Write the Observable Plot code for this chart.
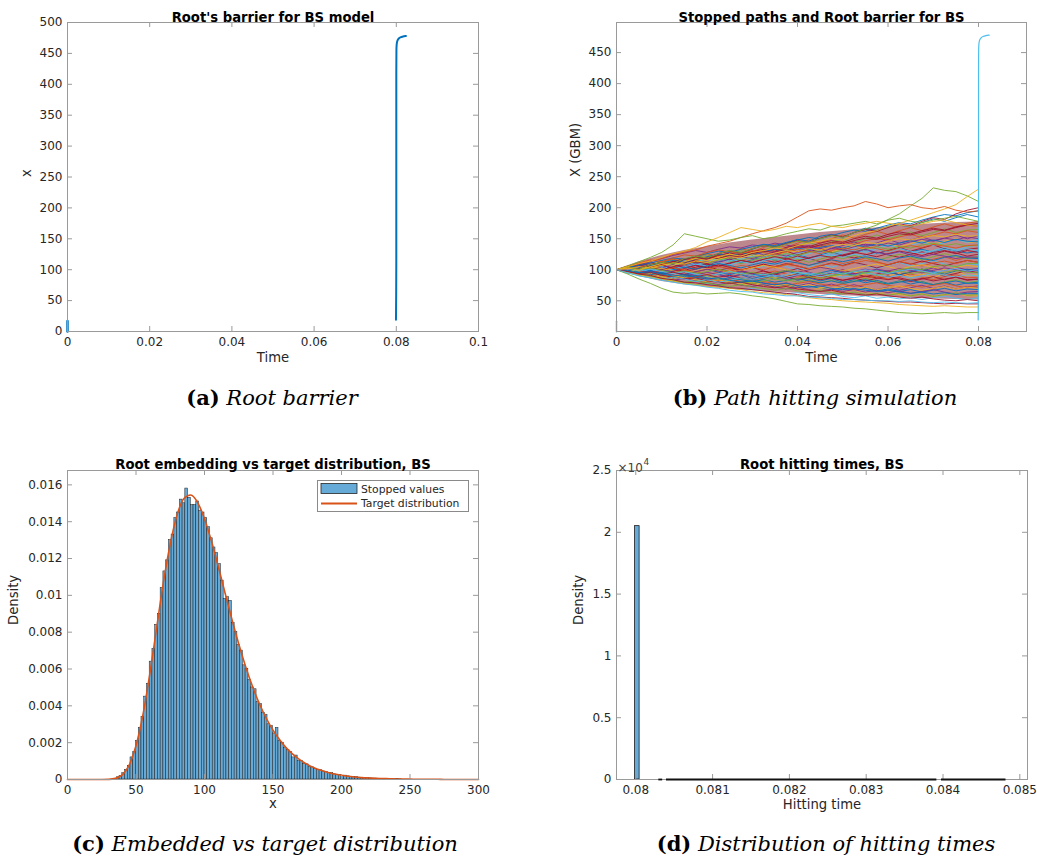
<!DOCTYPE html>
<html><head><meta charset="utf-8">
<script src="https://cdn.jsdelivr.net/npm/d3@7"></script>
<script src="https://cdn.jsdelivr.net/npm/@observablehq/plot@0.6"></script>
<style>
body{margin:0;background:#fff;}
#fig{position:relative;width:1037px;height:863px;overflow:hidden;font-family:"DejaVu Sans",sans-serif;}
.cap{position:absolute;font-family:"DejaVu Serif",serif;font-size:21px;color:#000;white-space:nowrap;transform:translate(-50%,-50%);}
.cap b{font-weight:bold;font-style:normal;}
.cap i{font-style:italic;}
</style></head><body><div id="fig"></div><script>
// ---------- DATA ----------
const palette = ["#0072BD","#D95319","#EDB120","#7E2F8E","#77AC30","#4DBEEE","#A2142F"];

// Root barrier (time, x)
const barrierT = [0.07992,0.07997,0.08,0.08,0.08,0.08003,0.0801,0.0803,0.0806,0.081,0.0815,0.0822,0.08235];
const barrierX = [19,60,120,300,420,455,465,471,474,476,477,478,478];
const barrierLowT = [0,0];
const barrierLowX = [0,17];

// Simulated paths (time step 0.0025, t = 0 ... 0.08)
const pathStep = 0.0025;
const pathValues = [
 [100,97,103,99,106,102,108,112,107,113,117,111,116,121,115,120,125,119,124,129,123,127,132,126,131,135,129,133,128,134,130,127,130],
 [100,104,98,101,95,99,94,97,92,96,100,95,90,94,98,93,88,92,87,91,95,90,86,90,85,89,93,88,84,89,92,87,88],
 [100,106,102,109,114,108,113,119,114,120,125,119,124,118,123,129,124,130,135,129,134,139,133,138,143,137,142,147,141,146,150,144,145],
 [100,95,99,93,88,92,86,90,85,81,85,80,84,79,75,79,74,78,73,77,72,76,71,68,72,67,71,75,70,74,69,73,72],
 [100,105,110,104,111,117,112,119,124,118,125,131,125,132,138,132,139,144,138,145,150,144,150,156,150,155,161,155,160,166,160,164,165],
 [100,103,97,101,106,100,104,109,103,98,103,107,101,106,111,105,100,105,110,104,109,113,107,102,107,112,106,110,115,109,104,110,108],
 [100,104,109,103,108,113,118,112,117,122,116,121,126,120,125,130,124,129,134,128,122,127,132,126,131,136,130,135,140,134,129,133,135],
 [100,102,96,99,94,97,91,95,89,93,88,92,86,90,85,89,83,87,82,86,80,84,79,83,78,82,77,81,76,80,75,79,78],
 [100,96,101,105,99,104,108,102,107,111,105,100,104,109,103,108,113,107,111,116,110,114,119,113,108,113,118,112,117,121,115,120,118],
 [100,97,92,96,101,95,99,94,89,93,98,92,96,91,86,90,95,89,93,88,92,97,91,86,90,95,89,93,88,93,97,91,92],
 [100,103,108,113,107,112,118,113,119,125,119,124,130,124,129,135,129,134,140,134,139,145,139,143,149,143,148,153,147,151,156,150,155],
 [100,98,93,97,92,88,92,87,91,86,82,86,81,85,89,84,80,84,79,83,78,82,86,81,77,81,85,80,76,80,84,79,82],
 [100,98,104,109,103,108,114,108,113,118,112,117,122,116,121,126,120,126,131,125,130,136,130,135,140,134,139,145,139,144,149,144,150],
 [100,105,99,103,108,102,97,101,106,100,95,99,104,98,93,97,102,96,91,95,100,94,89,93,98,92,96,101,95,90,94,99,95],
 [100,96,92,95,90,86,89,84,81,84,79,76,79,75,72,75,71,74,70,68,71,67,70,66,69,65,68,64,67,70,66,69,68],
 [100,104,110,106,112,117,113,120,126,121,128,134,129,136,141,136,143,148,143,150,156,151,157,162,157,163,168,163,169,174,169,175,178],
 [100,103,98,102,107,103,99,104,109,105,110,115,111,116,112,117,122,118,113,118,123,119,124,128,124,120,125,129,125,130,126,131,128],
 [100,95,91,94,89,85,88,83,80,83,78,75,78,74,71,74,70,67,70,66,64,67,63,61,64,60,58,61,57,60,62,58,58],
 [100,98,103,98,94,99,95,91,96,92,88,93,89,94,90,86,91,95,91,96,92,97,101,97,93,98,102,98,103,99,104,100,102],
 [100,104,100,106,111,106,112,117,112,118,114,110,115,120,115,121,117,112,117,122,118,123,119,115,120,125,120,116,121,126,121,118,122],
 [100,97,102,107,102,97,102,107,103,108,104,99,104,109,105,110,106,101,106,111,107,112,108,103,108,113,109,114,110,106,111,115,112],
 [100,104,99,95,100,96,92,97,101,96,92,97,93,89,94,98,94,90,95,99,95,91,96,100,96,92,97,101,97,93,98,101,98],
 [100,105,110,107,112,108,104,108,103,99,103,98,94,98,93,89,93,88,92,87,83,87,82,86,90,85,81,85,89,84,88,83,85],
 [100,97,101,106,111,107,112,117,113,118,114,119,124,120,125,121,126,131,127,122,127,132,128,133,129,134,130,126,131,136,132,137,140],
 [100,105,101,108,112,109,116,122,118,126,131,127,133,140,137,143,149,146,154,157,152,160,167,163,170,172,169,176,182,178,184,189,185],
 [100,103,108,104,109,113,118,115,120,124,121,126,130,128,133,129,135,139,137,142,146,141,147,150,148,153,157,152,156,161,158,163,160],
 [100,97,102,106,103,108,105,110,114,112,117,121,118,123,126,122,128,131,129,134,132,137,141,138,143,140,145,149,146,151,148,153,150],
 [100,104,99,103,108,112,109,113,110,116,119,115,120,124,121,126,123,128,131,127,132,129,134,137,133,138,135,140,143,139,142,138,140],
 [100,96,101,97,103,100,105,109,106,111,108,113,110,115,118,114,119,116,121,124,120,125,122,127,124,129,126,131,128,133,130,134,130],
 [100,103,107,104,100,105,109,113,110,106,111,115,112,117,121,118,114,119,123,120,124,128,125,121,126,130,127,123,128,131,127,122,125],
 [100,98,102,99,95,100,104,101,106,110,107,103,108,112,109,114,111,107,112,116,113,117,121,118,114,119,122,118,115,120,123,119,118],
 [100,102,98,95,99,103,100,96,101,105,102,107,104,100,105,109,106,102,107,110,106,111,115,112,108,113,110,106,111,114,110,115,112],
 [100,97,101,105,102,98,94,98,102,99,95,99,103,107,104,100,96,101,105,102,98,102,106,109,105,101,105,108,104,100,104,107,105],
 [100,103,99,96,100,97,93,97,101,98,94,98,95,91,95,99,96,100,104,101,97,93,97,101,98,102,99,95,99,103,100,97,100],
 [100,96,99,103,99,95,98,94,97,101,97,93,96,92,95,99,96,92,95,91,94,98,95,91,94,98,94,97,93,96,99,96,95],
 [100,102,98,101,97,94,97,93,90,93,97,94,90,93,89,92,96,93,89,92,88,91,95,92,88,91,87,90,94,91,88,92,90],
 [100,97,94,97,93,96,92,89,92,88,91,87,84,87,91,88,85,88,84,87,83,86,90,87,84,87,83,86,82,85,88,84,85],
 [100,98,95,92,95,91,88,91,87,84,87,84,81,84,80,83,86,82,79,82,78,81,84,80,77,80,83,79,76,79,82,78,80],
 [100,96,93,96,92,89,86,89,85,82,85,81,78,81,78,75,78,81,77,74,77,73,76,79,75,72,75,72,75,78,74,71,75],
 [100,98,94,91,88,91,87,84,81,84,80,77,80,76,74,77,73,76,72,70,73,69,72,68,71,74,70,67,70,73,69,72,70],
 [100,95,92,89,86,83,86,82,79,76,79,75,73,76,72,69,72,68,66,69,65,68,64,67,63,66,62,65,68,64,61,64,65],
 [100,97,93,90,86,83,80,82,78,75,73,76,72,70,67,70,66,64,67,63,61,64,60,62,59,62,58,61,57,60,63,59,60],
 [100,96,92,88,85,82,79,76,78,74,71,68,70,66,64,61,63,60,58,61,57,55,58,54,56,53,55,52,55,57,54,52,55],
 [100,103,107,111,108,113,117,121,118,123,127,124,129,133,130,136,140,137,143,147,144,150,154,151,157,161,158,163,167,164,169,172,170],
 [100,98,103,107,111,115,112,117,121,125,122,127,124,129,133,130,135,132,136,139,135,140,137,142,138,143,147,143,148,144,149,146,145],
 [100,104,109,114,118,123,127,131,128,133,137,135,140,138,143,140,136,139,134,137,132,129,133,128,125,129,124,121,125,122,118,121,120],
 [100,96,92,88,85,82,79,76,79,75,78,81,78,82,85,82,86,89,86,90,93,90,95,98,95,100,103,100,105,108,105,110,110],
 [100,102,106,104,109,113,111,116,120,118,123,121,126,130,128,133,137,135,140,144,142,147,151,149,154,158,156,161,165,163,168,172,175],
 [100,104,107,111,115,119,117,122,126,130,128,133,137,141,139,144,148,152,150,155,160,164,162,167,172,176,174,180,185,189,187,192,195],
 [100,104,102,108,112,110,117,121,119,126,130,127,134,139,136,142,147,144,151,156,153,160,165,162,168,174,171,178,184,181,190,196,200],
 [100,97,94,96,91,88,85,87,82,80,78,80,76,73,71,73,69,67,65,67,63,61,59,61,58,56,54,56,53,51,50,52,50],
 [100,106,111,116,113,119,124,122,128,132,129,126,131,128,124,129,133,130,126,131,135,132,137,134,130,135,139,136,141,138,135,139,140],
 [100,95,91,87,84,88,85,81,84,80,83,87,84,88,91,88,92,95,92,96,93,97,100,97,94,98,101,98,95,99,102,98,100],
 [100,102,105,103,107,111,109,114,112,117,121,119,124,122,127,131,129,134,132,137,141,139,144,142,146,150,148,152,155,153,157,154,155],
 [100,98,95,97,93,90,92,88,85,87,83,80,82,78,76,78,74,72,74,70,68,70,67,65,67,64,62,64,61,63,60,62,62],
 [100,104,101,108,112,110,118,122,119,126,131,128,134,139,136,141,146,144,150,155,152,160,166,172,181,190,203,215,232,228,226,219,210],
 [100,103,99,105,110,107,113,118,115,121,125,122,128,131,135,133,139,143,146,150,148,155,160,163,170,175,180,186,192,198,205,218,230],
 [100,106,110,114,118,125,128,132,138,142,146,152,158,163,168,175,185,195,198,196,200,203,210,206,200,203,205,200,198,202,196,193,195],
 [100,106,113,120,128,140,158,154,150,146,148,152,155,150,153,158,162,166,164,170,172,175,178,174,180,183,178,176,180,183,186,182,178],
 [100,105,110,114,120,126,130,136,145,152,160,168,165,162,165,170,168,172,175,170,168,172,175,178,175,172,170,174,178,180,176,172,170],
 [100,93,85,78,70,64,62,63,61,62,63,61,58,56,53,49,45,44,42,41,40,38,37,35,33,31,30,29,30,31,30,31,31],
 [100,96,92,88,85,82,78,76,73,72,70,68,65,63,62,60,58,55,53,52,50,49,48,47,46,44,43,42,41,42,41,40,40],
 [100,97,93,91,86,84,80,79,76,74,71,70,68,66,64,62,60,57,56,55,54,52,51,50,49,48,48,47,46,45,46,45,45],
 [100,95,90,87,83,80,77,75,72,70,67,65,64,61,60,58,58,56,55,54,52,52,51,50,50,49,50,48,47,48,47,46,47]
];
const pathColorIndex = [0,1,2,3,4,5,6,0,1,2,3,4,5,6,0,1,6,2,3,4,6,0,6,5,
                        0,1,3,4,5,6,0,1,2,3,4,5,6,0,1,2,3,4,5,6,0,3,4,6,0,6,6,1,5,2,0,
                        4,2,1,4,2,4,2,6,5];

// Dense core of the path bundle (t, lower, upper)
const coreT     = [0,0.005,0.01,0.015,0.02,0.025,0.03,0.035,0.04,0.045,0.05,0.055,0.06,0.065,0.07,0.075,0.08];
const coreLower = [100,89,81,76,72,69,66,64,62,60,58,57,56,54,53,52,51];
const coreUpper = [100,113,123,131,137,143,148,152,156,160,163,166,169,172,174,176,177];

// Histogram of stopped values (bin width 2, first edge 36)
const histStart = 36, histWidth = 2;
const histDensity = [
 0.00012,0.00018,0.00034,0.00052,0.00074,0.0012,0.0015,0.0021,0.0028,0.0034,
 0.0045,0.0052,0.0064,0.0071,0.0084,0.0090,0.0104,0.0113,0.0119,0.0130,
 0.0133,0.0142,0.0145,0.0152,0.0150,0.0158,0.0153,0.0149,0.0149,0.0151,
 0.0146,0.0145,0.0142,0.0137,0.0131,0.0126,0.0123,0.0117,0.0108,0.0098,
 0.0099,0.0097,0.0085,0.0080,0.0073,0.0070,0.0062,0.0060,0.0054,0.0050,
 0.0049,0.0042,0.0041,0.0036,0.0035,0.0030,0.0029,0.0025,0.0028,0.0021,
 0.0020,0.0017,0.0016,0.0015,0.0012,0.0013,0.0010,0.0010,0.00085,0.00082,
 0.00070,0.00066,0.00058,0.00052,0.00050,0.00043,0.00040,0.00034,0.00034,0.00028,
 0.00026,0.00024,0.00020,0.00021,0.00017,0.00015,0.00013,0.00013,0.00010,0.00009,
 0.00008,0.00008,0.00006,0.00005,0.00005,0.00004,0.00003,0.00003,0.00002,0.00002,
 0.00002,0.00001,0.00002,0.00001
];
// Target density (x = 0,5,...,300)
const targetX = [0,5,10,15,20,25,30,35,40,45,50,55,60,65,70,75,80,85,90,95,100,105,110,115,120,125,130,135,140,145,150,155,160,165,170,175,180,185,190,195,200,205,210,215,220,225,230,235,240,245,250,255,260,265,270,275,280,285,290,295,300];
const targetD = [0,0,0,0,0,0,0.000008,0.00006,0.00025,0.00078,0.00183,0.00349,0.0057,0.0082,0.0107,0.0128,0.01437,0.01526,0.01545,0.01504,0.01416,0.01296,0.01158,0.01013,0.0087,0.00736,0.00614,0.00506,0.00413,0.00334,0.00268,0.00214,0.00169,0.00134,0.00105,0.00082,0.00064,0.0005,0.00038,0.0003,0.00023,0.00018,0.00014,0.0001,0.00008,0.00006,0.00005,0.00004,0.00003,0.00002,0.00002,0.00001,0.00001,0.00001,0.00001,0,0,0,0,0,0];

// Hitting times histogram
const hitBins = [{x1: 0.07999, x2: 0.08005, d: 20500}];
const hitTail = [{x1: 0.08030, x2: 0.08035}, {x1: 0.08040, x2: 0.08392}, {x1: 0.08398, x2: 0.08482}];

// Tick labels
const ticksA_x = [0,0.02,0.04,0.06,0.08,0.1];
const ticksA_y = [0,50,100,150,200,250,300,350,400,450,500];
const ticksB_x = [0,0.02,0.04,0.06,0.08];
const ticksB_y = [50,100,150,200,250,300,350,400,450];
const ticksC_x = [0,50,100,150,200,250,300];
const ticksC_y = [0,0.002,0.004,0.006,0.008,0.01,0.012,0.014,0.016];
const ticksD_x = [0.08,0.081,0.082,0.083,0.084,0.085];
const ticksD_y = [0,5000,10000,15000,20000,25000];

const titles = ["Root's barrier for BS model","Stopped paths and Root barrier for BS","Root embedding vs target distribution, BS","Root hitting times, BS"];
const legendLabels = ["Stopped values","Target distribution"];
const captions = [["(a)","Root barrier"],["(b)","Path hitting simulation"],["(c)","Embedded vs target distribution"],["(d)","Distribution of hitting times"]];

// ---------- BUILD ----------
const fig = document.getElementById("fig");
const barrier = barrierT.map((t,i)=>({t, x: barrierX[i]}));
const barrierLow = barrierLowT.map((t,i)=>({t, x: barrierLowX[i]}));
const paths = pathValues.flatMap((vals,p)=>vals.map((v,j)=>({t: j*pathStep, x: v, p, c: palette[pathColorIndex[p]]})));
const core = coreT.map((t,i)=>({t, lo: coreLower[i], hi: coreUpper[i]}));
const hist = histDensity.map((d,i)=>({x1: histStart + i*histWidth, x2: histStart + (i+1)*histWidth, d}));
const target = targetX.map((x,i)=>({x, d: targetD[i]}));

const axisColor = "#9a9a9a";
const TICK_FS = 12, TITLE_FS = 13.2, LABEL_FS = 13.2;
function makePanel(o){
  const iw = o.width - o.ml - o.mr, ih = o.height - o.mt - o.mb;
  const svg = Plot.plot({
    width: o.width, height: o.height,
    marginLeft: o.ml, marginRight: o.mr, marginTop: o.mt, marginBottom: o.mb,
    style: {fontFamily: "'DejaVu Sans', sans-serif", fontSize: "12px", color: "#262626", background: "transparent", overflow: "visible"},
    x: {domain: o.xDomain},
    y: {domain: o.yDomain},
    marks: [
      ...o.marks,
      Plot.frame({stroke: axisColor}),
      Plot.tickX(o.xTicks, {x: d=>d, insetTop: ih-5, stroke: axisColor}),
      Plot.tickX(o.xTicks, {x: d=>d, insetBottom: ih-5, stroke: axisColor}),
      Plot.tickY(o.yTicks, {y: d=>d, insetRight: iw-5, stroke: axisColor}),
      Plot.tickY(o.yTicks, {y: d=>d, insetLeft: iw-5, stroke: axisColor}),
      Plot.axisX(o.xTicks, {tickSize: 0, tickPadding: 6, fontSize: TICK_FS, tickFormat: o.xFmt || (d=>String(d)), label: null}),
      Plot.axisY(o.yTicks, {tickSize: 0, tickPadding: 5, fontSize: TICK_FS, tickFormat: o.yFmt || (d=>String(d)), label: null}),
      Plot.text([o.title], {text: d=>d, frameAnchor: "top", dy: o.titleDy, fontSize: TITLE_FS, fontWeight: "bold", fill: "#000"}),
      Plot.text([o.xLabel], {text: d=>d, frameAnchor: "bottom", dy: o.xLabelDy, fontSize: LABEL_FS}),
      Plot.text([o.yLabel], {text: d=>d, frameAnchor: "left", dx: o.yLabelDx, rotate: -90, fontSize: LABEL_FS}),
      ...(o.extra || [])
    ]
  });
  svg.style.position = "absolute";
  svg.style.left = o.left + "px";
  svg.style.top = o.top + "px";
  fig.appendChild(svg);
}

// (a)
makePanel({left:0, top:0, width:520, height:372, ml:67, mr:42, mt:22, mb:41,
  xDomain:[0,0.1], yDomain:[0,500], xTicks: ticksA_x, yTicks: ticksA_y,
  title: titles[0], titleDy:-10, xLabel:"Time", xLabelDy:30, yLabel:"x", yLabelDx:-41,
  marks: [
    Plot.line(barrierLow, {x:"t", y:"x", stroke:"#0072BD", strokeWidth:2.5}),
    Plot.line(barrier, {x:"t", y:"x", stroke:"#0072BD", strokeWidth:2, curve:"monotone-y"})
  ]});

// (b)
makePanel({left:520, top:0, width:517, height:372, ml:96, mr:11, mt:22, mb:41,
  xDomain:[0,0.0906], yDomain:[0.5,498.5], xTicks: ticksB_x, yTicks: ticksB_y,
  title: titles[1], titleDy:-10, xLabel:"Time", xLabelDy:30, yLabel:"X (GBM)", yLabelDx:-41,
  marks: [
    Plot.areaY(core, {x:"t", y1:"lo", y2:"hi", fill:"#a0565e", fillOpacity:0.7}),
    Plot.line(paths, {x:"t", y:"x", z:"p", stroke: d=>d.c, strokeWidth:0.9}),
    Plot.line(barrierLow, {x:"t", y:"x", stroke:"#4DBEEE", strokeWidth:1.5}),
    Plot.line(barrier, {x:"t", y:"x", stroke:"#4DBEEE", strokeWidth:1.2, curve:"monotone-y"})
  ]});

// (c)
makePanel({left:0, top:440, width:520, height:380, ml:67, mr:42, mt:30, mb:41,
  xDomain:[0,300], yDomain:[0,0.01678], xTicks: ticksC_x, yTicks: ticksC_y,
  title: titles[2], titleDy:-11, xLabel:"x", xLabelDy:28, yLabel:"Density", yLabelDx:-54,
  marks: [
    Plot.rectY(hist, {x1:"x1", x2:"x2", y:"d", fill:"#66AAD7", stroke:"#1e1e1e", strokeWidth:0.5}),
    Plot.line(target, {x:"x", y:"d", stroke:"#D95319", strokeWidth:1.6, curve:"monotone-x"})
  ]});

// (d)
makePanel({left:520, top:440, width:517, height:380, ml:96, mr:10, mt:30, mb:41,
  xDomain:[0.079749,0.0851], yDomain:[0,25000], xTicks: ticksD_x, yTicks: ticksD_y,
  yFmt: d=>String(d/1e4),
  title: titles[3], titleDy:-11, xLabel:"Hitting time", xLabelDy:29, yLabel:"Density", yLabelDx:-38,
  marks: [
    Plot.rectY(hitBins, {x1:"x1", x2:"x2", y:"d", fill:"#66AAD7", stroke:"#1e1e1e", strokeWidth:0.8})
  ],
  extra: [
    Plot.ruleY(hitTail, {x1:"x1", x2:"x2", y: 0, stroke:"#111", strokeWidth:1.8}),
    Plot.text(["×10"], {text:d=>d, frameAnchor:"top-left", dx:1, dy:-7, textAnchor:"start", fontSize:12, fill:"#404040"}),
    Plot.text(["4"], {text:d=>d, frameAnchor:"top-left", dx:27, dy:-12, textAnchor:"start", fontSize:9, fill:"#404040"})
  ]
});

// Legend for (c)
const leg = document.createElement("div");
leg.style.cssText = "position:absolute;left:317px;top:480px;width:152px;height:32px;";
leg.innerHTML = `<svg width="152" height="32" style="font-family:'DejaVu Sans',sans-serif;font-size:10.8px;">
<rect x="0.5" y="0.5" width="151" height="31" fill="#fff" stroke="#8a8a8a"/>
<rect x="4" y="3.5" width="36" height="10" fill="#66AAD7" stroke="#262626" stroke-width="0.8"/>
<line x1="4" x2="40" y1="23.5" y2="23.5" stroke="#D95319" stroke-width="1.8"/>
<text x="44" y="12.5" fill="#262626">${legendLabels[0]}</text>
<text x="44" y="27" fill="#262626">${legendLabels[1]}</text></svg>`;
fig.appendChild(leg);

// Captions
const capPos = [[272,397],[815,397],[265,843],[826,843]];
captions.forEach((c,i)=>{
  const d = document.createElement("div");
  d.className = "cap";
  d.style.left = capPos[i][0] + "px";
  d.style.top = capPos[i][1] + "px";
  d.innerHTML = `<b>${c[0]}</b> <i>${c[1]}</i>`;
  fig.appendChild(d);
});
</script></body></html>
